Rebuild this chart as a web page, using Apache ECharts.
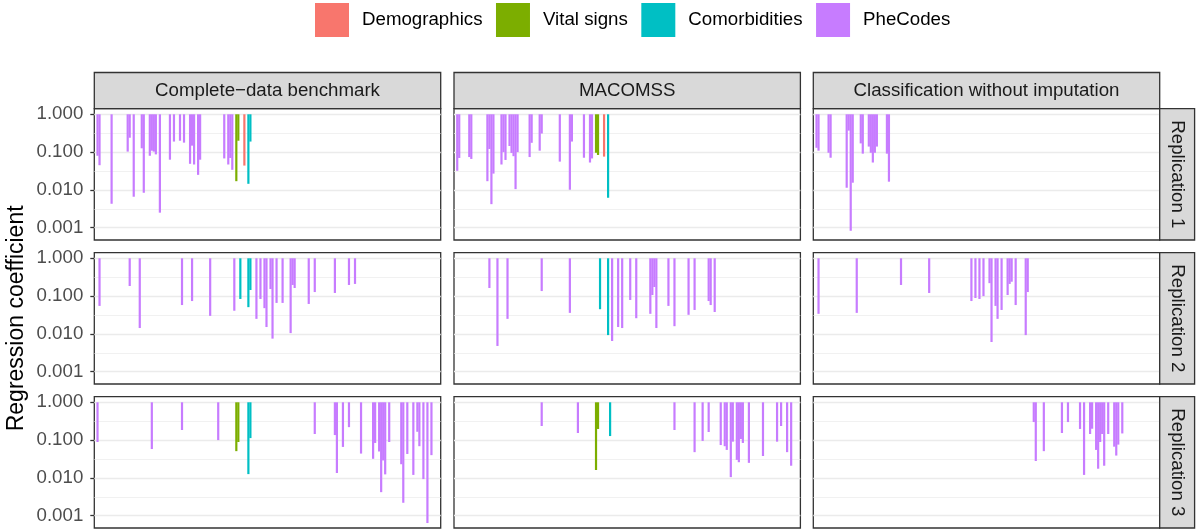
<!DOCTYPE html>
<html>
<head>
<meta charset="utf-8">
<script src="https://cdn.jsdelivr.net/npm/echarts@6/dist/echarts.min.js"></script>
<style>
  html, body { margin: 0; padding: 0; background: #ffffff; }
  #chart { width: 1196px; height: 529px; }
</style>
</head>
<body>
<div id="chart"></div>
<script>
// Facet labels
const methods = ['Complete\u2212data benchmark', 'MACOMSS', 'Classification without imputation'];
const replications = ['Replication 1', 'Replication 2', 'Replication 3'];
const groups = ['Demographics', 'Vital signs', 'Comorbidities', 'PheCodes'];

// Feature positions along the x axis and their groups (all others are PheCodes)
const featureCount = 172;
const demographicFeatures = [75];
const vitalSignFeatures = [71, 72];
const comorbidityFeatures = [73, 77, 78];

// Y axis breaks (regression coefficient, log scale)
const tickValues = [0.001, 0.01, 0.1, 1];
const gridValues = [1, 0.316, 0.1, 0.0316, 0.01, 0.00316, 0.001];

// [feature position, regression coefficient] per replication and method
const rep1Benchmark = [[2,0.080],[3,0.045],[9,0.0043],[17,0.103],[18,0.24],[20,0.0066],[24,0.126],[25,0.0084],[28,0.080],[29,0.109],[30,0.103],[31,0.087],[33,0.0025],[38,0.063],[40,0.19],[43,0.20],[45,0.178],[48,0.049],[49,0.148],[50,0.047],[52,0.025],[53,0.063],[65,0.068],[67,0.047],[68,0.070],[69,0.034],[71,0.017],[72,0.20],[75,0.044],[77,0.0145],[78,0.19]];
const rep1Macomss = [[2,0.032],[3,0.070],[8,0.074],[9,0.066],[17,0.017],[18,0.121],[19,0.0042],[20,0.027],[24,0.047],[25,0.10],[26,0.062],[28,0.145],[29,0.095],[30,0.078],[31,0.0105],[32,0.10],[38,0.074],[39,0.176],[43,0.109],[44,0.31],[53,0.056],[58,0.0101],[59,0.19],[65,0.071],[68,0.053],[69,0.068],[71,0.096],[72,0.084],[75,0.076],[77,0.0062]];
const rep1NoImpute = [[2,0.13],[3,0.109],[8,0.096],[9,0.071],[17,0.0114],[18,0.37],[19,0.00083],[20,0.0155],[24,0.17],[25,0.091],[28,0.14],[29,0.096],[30,0.053],[31,0.096],[32,0.14],[37,0.091],[38,0.0165]];

const rep2Benchmark = [[3,0.055],[18,0.185],[23,0.0143],[44,0.058],[49,0.074],[58,0.030],[70,0.041],[73,0.084],[77,0.051],[78,0.145],[81,0.025],[83,0.084],[85,0.048],[86,0.0152],[88,0.154],[89,0.0075],[91,0.066],[94,0.066],[98,0.0105],[99,0.197],[100,0.164],[107,0.062],[110,0.128],[120,0.121],[127,0.197],[130,0.21]];
const rep2Macomss = [[18,0.164],[22,0.0048],[27,0.025],[44,0.136],[58,0.036],[73,0.045],[77,0.0093],[79,0.0065],[82,0.0152],[84,0.0143],[88,0.079],[91,0.026],[98,0.034],[99,0.107],[100,0.174],[101,0.0143],[107,0.055],[110,0.016],[117,0.032],[120,0.043],[127,0.074],[128,0.058],[130,0.038]];
const rep2NoImpute = [[3,0.034],[22,0.036],[44,0.197],[58,0.121],[79,0.074],[81,0.089],[83,0.084],[85,0.10],[88,0.22],[89,0.0061],[91,0.055],[92,0.025],[94,0.043],[97,0.107],[98,0.21],[99,0.24],[101,0.058],[106,0.0093],[107,0.128]];

const rep3Benchmark = [[2,0.089],[29,0.058],[44,0.185],[62,0.10],[71,0.051],[72,0.089],[77,0.0126],[78,0.113],[110,0.145],[120,0.136],[121,0.0135],[124,0.066],[127,0.22],[133,0.044],[139,0.032],[140,0.084],[142,0.050],[143,0.0042],[144,0.029],[145,0.0124],[147,0.089],[153,0.023],[154,0.0022],[156,0.043],[159,0.012],[161,0.166],[162,0.069],[164,0.0093],[166,0.00064],[168,0.040]];
const rep3Macomss = [[44,0.236],[62,0.154],[71,0.0162],[72,0.197],[78,0.128],[110,0.185],[120,0.048],[124,0.095],[127,0.164],[133,0.074],[135,0.069],[136,0.055],[138,0.0105],[139,0.091],[141,0.030],[142,0.026],[143,0.107],[144,0.084],[147,0.025],[154,0.038],[161,0.091],[163,0.236],[166,0.048],[168,0.021]];
const rep3NoImpute = [[110,0.30],[111,0.028],[115,0.051],[124,0.154],[127,0.30],[133,0.197],[135,0.012],[138,0.145],[139,0.20],[141,0.055],[142,0.0175],[143,0.089],[144,0.145],[145,0.021],[147,0.145],[150,0.067],[151,0.039],[152,0.076],[154,0.15]];

const panelData = [
  [rep1Benchmark, rep1Macomss, rep1NoImpute],
  [rep2Benchmark, rep2Macomss, rep2NoImpute],
  [rep3Benchmark, rep3Macomss, rep3NoImpute]
];

// ---- styling ----
const groupColors = {
  'Demographics': '#F8766D',
  'Vital signs': '#7CAE00',
  'Comorbidities': '#00BFC4',
  'PheCodes': '#C77CFF'
};
const FONT = "'Liberation Sans', Arial, Helvetica, sans-serif";
const colLeft = [94.3, 454, 813.3];
const colW = 346.4;
const rowTop = [108.7, 252.7, 396.7];
const rowH = 131.3;
const stripTop = 72.5;
const stripW = 34.9;
const yMin = -3.325, yMax = 0.148;   // log10 range of each panel
const borderColor = '#333333';
const textSize = 18.7;

function groupOf(f) {
  if (demographicFeatures.includes(f)) return 'Demographics';
  if (vitalSignFeatures.includes(f)) return 'Vital signs';
  if (comorbidityFeatures.includes(f)) return 'Comorbidities';
  return 'PheCodes';
}

const tickLogs = tickValues.map(v => Math.log10(v));
const gridLogs = gridValues.map(v => Math.round(Math.log10(v) * 2) / 2);

const grids = [], xAxes = [], yAxes = [], series = [], graphics = [];

for (let r = 0; r < 3; r++) {
  for (let c = 0; c < 3; c++) {
    const g = r * 3 + c;
    grids.push({
      left: colLeft[c], top: rowTop[r], width: colW, height: rowH,
      show: true, backgroundColor: '#ffffff',
      borderColor: borderColor, borderWidth: 1.3
    });
    xAxes.push({
      type: 'value', gridIndex: g, min: 0.4, max: featureCount + 0.6, show: false
    });
    yAxes.push({
      type: 'value', gridIndex: g, min: yMin, max: yMax,
      axisLine: { show: false },
      splitLine: { show: false },
      axisTick: {
        show: c === 0, customValues: tickLogs, length: 4,
        lineStyle: { color: borderColor, width: 1.3 }
      },
      axisLabel: {
        show: c === 0, customValues: tickLogs,
        formatter: v => Math.pow(10, v).toFixed(3),
        color: '#4D4D4D', fontSize: textSize, fontFamily: FONT, margin: 11
      }
    });
    series.push({
      type: 'bar', xAxisIndex: g, yAxisIndex: g,
      barWidth: 2.2, silent: true, animation: false, z: 3,
      data: panelData[r][c].map(([f, coef]) => ({
        value: [f, Math.log10(coef)],
        itemStyle: { color: groupColors[groupOf(f)], opacity: 1 }
      })),
      markLine: {
        silent: true, symbol: ['none', 'none'], z: 1, animation: false,
        label: { show: false },
        emphasis: { disabled: true },
        data: gridLogs.map(v => ({
          yAxis: v,
          lineStyle: { color: '#EBEBEB', width: Number.isInteger(v) ? 1.4 : 0.7, type: 'solid' }
        }))
      }
    });
  }
}

// legend entries
groups.forEach(name => {
  series.push({
    type: 'scatter', name: name, data: [], xAxisIndex: 0, yAxisIndex: 0,
    itemStyle: { color: groupColors[name], opacity: 1 }
  });
});

// top strips (methods)
methods.forEach((m, c) => {
  graphics.push({
    type: 'rect', silent: true, z: 10,
    shape: { x: colLeft[c], y: stripTop, width: colW, height: rowTop[0] - stripTop },
    style: { fill: '#D9D9D9', stroke: borderColor, lineWidth: 1.3 }
  });
  graphics.push({
    type: 'text', silent: true, z: 11,
    x: colLeft[c] + colW / 2, y: (stripTop + rowTop[0]) / 2,
    style: { text: m, fill: '#1A1A1A', fontSize: textSize, fontFamily: FONT, align: 'center', verticalAlign: 'middle' }
  });
});

// right strips (replications)
const stripX = colLeft[2] + colW;
replications.forEach((rep, r) => {
  graphics.push({
    type: 'rect', silent: true, z: 10,
    shape: { x: stripX, y: rowTop[r], width: stripW, height: rowH },
    style: { fill: '#D9D9D9', stroke: borderColor, lineWidth: 1.3 }
  });
  graphics.push({
    type: 'text', silent: true, z: 11,
    x: stripX + stripW / 2, y: rowTop[r] + rowH / 2, rotation: -Math.PI / 2,
    style: { text: rep, fill: '#1A1A1A', fontSize: textSize, fontFamily: FONT, align: 'center', verticalAlign: 'middle' }
  });
});

// y axis title
graphics.push({
  type: 'text', silent: true, z: 11,
  x: 17, y: (rowTop[0] + rowTop[2] + rowH) / 2, rotation: Math.PI / 2,
  style: { text: 'Regression coefficient', fill: '#000000', fontSize: 23, fontFamily: FONT, align: 'center', verticalAlign: 'middle' }
});

const chart = echarts.init(document.getElementById('chart'), null, { renderer: 'canvas' });
chart.setOption({
  backgroundColor: '#ffffff',
  animation: false,
  legend: {
    data: groups, left: 315, top: 3, padding: 0,
    icon: 'rect', itemWidth: 34, itemHeight: 34, itemGap: 13.5,
    selectedMode: false,
    itemStyle: { opacity: 1 },
    textStyle: { fontSize: textSize, color: '#000000', fontFamily: FONT, padding: [0, 0, 0, 8] }
  },
  grid: grids,
  xAxis: xAxes,
  yAxis: yAxes,
  series: series,
  graphic: graphics
});
</script>
</body>
</html>
